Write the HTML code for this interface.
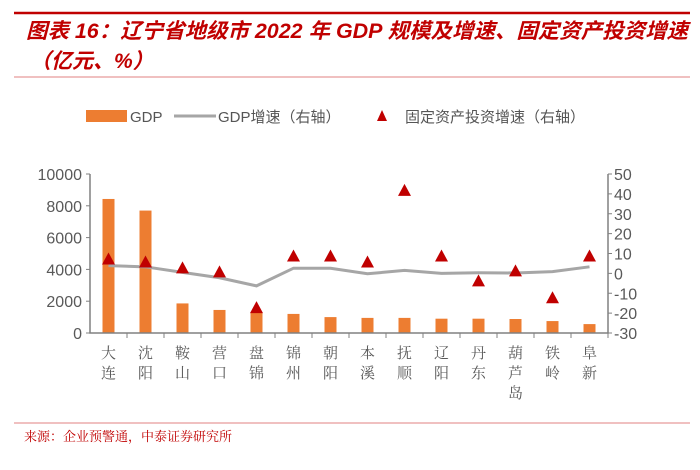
<!DOCTYPE html>
<html><head><meta charset="utf-8"><style>
body{margin:0;background:#fff;width:700px;height:465px;overflow:hidden;font-family:"Liberation Sans","Noto Sans CJK SC",sans-serif}
</style></head><body>
<svg width="700" height="465" xmlns="http://www.w3.org/2000/svg">
<line x1="14" y1="13" x2="690" y2="13" stroke="#c00000" stroke-width="2.5"/>
<text x="26" y="38" fill="#c00000" font-size="21" font-style="italic" font-weight="bold" textLength="662" lengthAdjust="spacingAndGlyphs" font-family="Liberation Sans,Noto Sans CJK SC,sans-serif">图表 16：辽宁省地级市 2022 年 GDP 规模及增速、固定资产投资增速</text>
<text x="30" y="68" fill="#c00000" font-size="21" font-style="italic" font-weight="bold" font-family="Liberation Sans,Noto Sans CJK SC,sans-serif">（亿元、%）</text>
<line x1="14" y1="77" x2="690" y2="77" stroke="#e08080" stroke-width="1"/>
<g font-size="15" fill="#555">
<rect x="86" y="110" width="41" height="12" fill="#ed7d31"/>
<text x="130" y="122">GDP</text>
<line x1="174" y1="116" x2="216" y2="116" stroke="#a6a6a6" stroke-width="3"/>
<text x="218" y="122">GDP增速（右轴）</text>
<polygon points="382,110 377,121 387,121" fill="#c00000"/>
<text x="405" y="122">固定资产投资增速（右轴）</text>
</g>
<g id="plot"></g>
<line x1="14" y1="423" x2="690" y2="423" stroke="#e08080" stroke-width="1"/>
<text x="24" y="441" fill="#c00000" font-size="13" font-family="Liberation Serif,Noto Serif CJK SC,serif">来源：企业预警通，中泰证券研究所</text>
</svg>
<script>
const categories=["大连","沈阳","鞍山","营口","盘锦","锦州","朝阳","本溪","抚顺","辽阳","丹东","葫芦岛","铁岭","阜新"];
const gdp=[8430,7700,1860,1450,1300,1200,1000,950,950,900,900,880,750,560];
const gdpGrowth=[3.9,3.3,0.5,-2.2,-6.3,2.6,2.6,-0.2,1.5,0,0.3,0.2,0.9,3.3];
const faiGrowth=[7,5.5,2.5,0.5,-17.5,8.5,8.5,5.5,41.5,8.5,-4,1,-12.5,8.5];
const leftTicks=[0,2000,4000,6000,8000,10000];
const rightTicks=[-30,-20,-10,0,10,20,30,40,50];
const NS="http://www.w3.org/2000/svg";
const g=document.getElementById('plot');
const X0=90,X1=608,Y0=333,Y1=174,step=(X1-X0)/categories.length;
const xc=i=>X0+step*(i+0.5);
const yl=v=>Y0-(v/10000)*(Y0-Y1);
const yr=v=>Y0-((v+30)/80)*(Y0-Y1);
function mk(t,a){const e=document.createElementNS(NS,t);for(const k in a)e.setAttribute(k,a[k]);g.appendChild(e);return e;}
gdp.forEach((v,i)=>{const e=mk('rect',{x:xc(i)-6,y:yl(v),width:12,height:Y0-yl(v),fill:'#ed7d31'});

});
const ax=mk('path',{d:`M${X0},${Y1}V${Y0}H${X1}V${Y1}`,fill:'none',stroke:'#808080','stroke-width':1.5});


leftTicks.forEach(v=>{mk('line',{x1:X0-4,x2:X0,y1:yl(v),y2:yl(v),stroke:'#808080'});
const t=mk('text',{x:X0-8,y:yl(v)+6,'text-anchor':'end','font-size':16,fill:'#595959'});t.textContent=v;

});
rightTicks.forEach(v=>{mk('line',{x1:X1,x2:X1+4,y1:yr(v),y2:yr(v),stroke:'#808080'});
const t=mk('text',{x:X1+6,y:yr(v)+6,'font-size':16,fill:'#595959'});t.textContent=v;

});
categories.forEach((c,i)=>{mk('line',{x1:X0+step*(i+1),x2:X0+step*(i+1),y1:Y0,y2:Y0+5,stroke:'#808080'});
[...c].forEach((ch,j)=>{const t=mk('text',{x:xc(i),y:Y0+25+j*20,'text-anchor':'middle','font-size':15,fill:'#595959','font-family':'Noto Serif CJK SC,serif'});t.textContent=ch;

});});
const ln=mk('polyline',{points:gdpGrowth.map((v,i)=>xc(i)+','+yr(v)).join(' '),fill:'none',stroke:'#a6a6a6','stroke-width':3});


faiGrowth.forEach((v,i)=>{const x=xc(i),y=yr(v);const p=mk('polygon',{points:`${x},${y-7} ${x-6.5},${y+5} ${x+6.5},${y+5}`,fill:'#c00000'});

});
</script>
</body></html>
